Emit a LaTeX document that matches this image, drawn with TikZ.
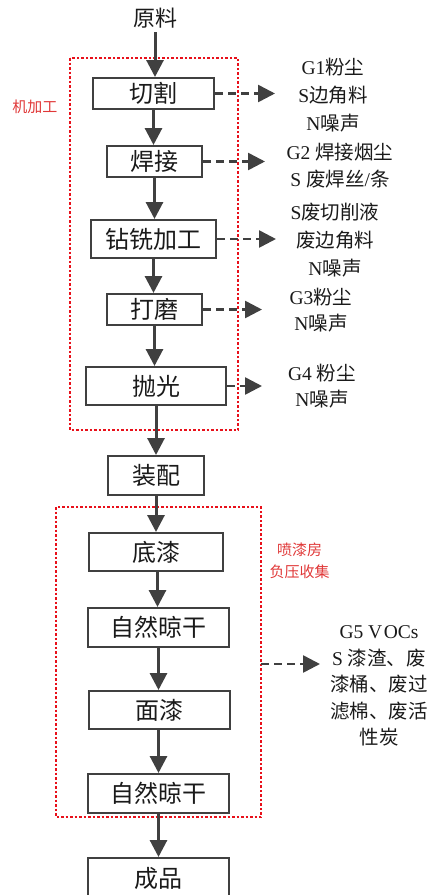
\documentclass[tikz,border=0pt]{standalone}
\usepackage{fontspec}
\setmainfont{Liberation Serif}
\newfontfamily\cjk{Noto Sans CJK SC}
\usetikzlibrary{arrows.meta}
\definecolor{dgray}{HTML}{404040}
\definecolor{txt}{HTML}{1A1A1A}
\definecolor{rbox}{HTML}{E8101A}
\definecolor{rtxt}{HTML}{E03838}
\tikzset{
  x=1pt, y=-1pt,
  procbox/.style={draw=dgray, line width=2pt, fill=white, text=txt,
    font=\cjk\fontsize{24pt}{26pt}\selectfont, inner sep=0pt},
  flow/.style={draw=dgray, line width=3pt, -{Triangle[length=17pt,width=17pt]}},
  emit/.style={draw=dgray, line width=2.6pt, dash pattern=on 8pt off 5pt,
    -{Triangle[length=17pt,width=17pt]}},
  zone/.style={draw=rbox, line width=1.7pt, dash pattern=on 2.5pt off 2pt},
  outlbl/.style={text=txt, align=center, inner sep=0pt,
    font=\fontsize{19.5pt}{28pt}\selectfont},
  zonelbl/.style={text=rtxt, align=center, inner sep=0pt,
    font=\cjk\fontsize{15pt}{22pt}\selectfont}
}
\begin{document}
\begin{tikzpicture}
\useasboundingbox (0,0) rectangle (433,895);

% zones
\draw[zone] (70,58) rectangle (238,430);
\draw[zone] (56,507) rectangle (261,817);
\coordinate (z2e) at (261,664);

% raw material
\node[text=txt, font=\cjk\fontsize{22pt}{24pt}\selectfont, inner sep=0pt] (yl) at (155,18) {原料};

% process boxes
\node[procbox, minimum width=121pt, minimum height=31pt] (qg) at (153.5,93.5) {切割};
\node[procbox, minimum width=95pt, minimum height=31pt] (hj) at (154.5,161.5) {焊接};
\node[procbox, minimum width=125pt, minimum height=38pt] (zx) at (153.5,239) {钻铣加工};
\node[procbox, minimum width=95pt, minimum height=31pt] (dm) at (154.5,309.5) {打磨};
\node[procbox, minimum width=140pt, minimum height=38pt] (pg) at (156,386) {抛光};
\node[procbox, minimum width=96pt, minimum height=39pt] (zp) at (156,475.5) {装配};
\node[procbox, minimum width=134pt, minimum height=38pt] (dq) at (156,552) {底漆};
\node[procbox, minimum width=141pt, minimum height=39pt] (gz1) at (158.5,627.5) {自然晾干};
\node[procbox, minimum width=141pt, minimum height=38pt] (mq) at (159.5,710) {面漆};
\node[procbox, minimum width=141pt, minimum height=39pt] (gz2) at (158.5,793.5) {自然晾干};
\node[procbox, minimum width=141pt, minimum height=84pt] (cp) at (158.5,900) {};
\node[text=txt, font=\cjk\fontsize{24pt}{26pt}\selectfont, inner sep=0pt] (cpt) at (158.5,878) {成品};

% main flow
\draw[flow] ([yshift=-4pt]yl.south) -- (yl.south |- qg.north);
\draw[flow] (qg.south) -- (qg.south |- hj.north);
\draw[flow] (hj.south) -- (hj.south |- zx.north);
\draw[flow] (zx.south) -- (zx.south |- dm.north);
\draw[flow] (dm.south) -- (dm.south |- pg.north);
\draw[flow] (pg.south) -- (pg.south |- zp.north);
\draw[flow] (zp.south) -- (zp.south |- dq.north);
\draw[flow] ([xshift=1.5pt]dq.south) -- ([xshift=1.5pt]dq.south |- gz1.north);
\draw[flow] (gz1.south) -- (gz1.south |- mq.north);
\draw[flow] (gz2.north |- mq.south) -- (gz2.north);
\draw[flow] (gz2.south) -- (gz2.south |- cp.north);

% emission tips
\coordinate (t1) at (275,93.5);
\coordinate (t2) at (265,161.5);
\coordinate (t3) at (276,239);
\coordinate (t4) at (262,309.5);
\coordinate (t5) at (262,386);
\coordinate (t6) at (320,664);

\draw[emit] (qg.east) -- (t1);
\draw[emit] (hj.east) -- (t2);
\draw[emit] (zx.east) -- (t3);
\draw[emit] (dm.east) -- (t4);
\draw[emit] (pg.east) -- (t5);
\draw[emit] (z2e) -- (t6);

% emission labels
\node[outlbl] (l1) at (333,95) {G1{\cjk 粉尘}\\S{\cjk 边角料}\\N{\cjk 噪声}};
\node[outlbl, font=\fontsize{19.5pt}{27pt}\selectfont] (l2) at (340,165.5) {G2 {\cjk 焊接烟尘}\\S {\cjk 废焊丝}/{\cjk 条}};
\node[outlbl] (l3) at (335,240) {S{\cjk 废切削液}\\{\cjk 废边角料}\\N{\cjk 噪声}};
\node[outlbl, font=\fontsize{19.5pt}{26pt}\selectfont] (l4) at (321,310) {G3{\cjk 粉尘}\\N{\cjk 噪声}};
\node[outlbl, font=\fontsize{19.5pt}{26pt}\selectfont] (l5) at (322,386) {G4 {\cjk 粉尘}\\N{\cjk 噪声}};
\node[outlbl, font=\fontsize{19.5pt}{26.5pt}\selectfont] (l6) at (379,686) {G5 V\kern1.5pt OCs\\S {\cjk 漆渣、废}\\{\cjk 漆桶、废过}\\{\cjk 滤棉、废活}\\{\cjk 性炭}};

% zone labels
\node[zonelbl] (zl1) at (35,107) {机加工};
\node[zonelbl] (zl2) at (299.5,561) {喷漆房\\负压收集};
\end{tikzpicture}
\end{document}
